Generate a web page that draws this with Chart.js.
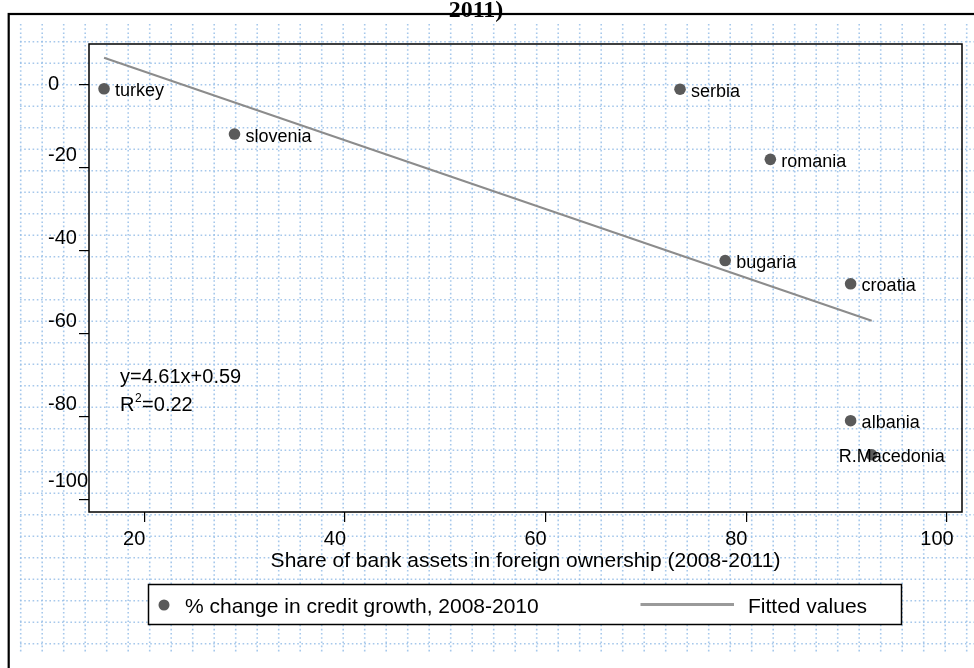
<!DOCTYPE html>
<html>
<head>
<meta charset="utf-8">
<script src="https://cdn.jsdelivr.net/npm/chart.js@4.4.0/dist/chart.umd.min.js"></script>
<style>
  html, body { margin: 0; padding: 0; background: #fff; }
  #wrap { width: 974px; height: 668px; }
</style>
</head>
<body>
<div id="wrap"><canvas id="chart" width="974" height="668"></canvas></div>
<script>
// data
const countries = ['turkey', 'slovenia', 'serbia', 'romania', 'bugaria', 'croatia', 'albania', 'R.Macedonia'];
const foreignShare = [16.0, 29.0, 73.4, 82.4, 77.9, 90.4, 90.4, 92.5];
const creditChange = [-1.1, -12.0, -1.2, -18.1, -42.5, -48.1, -81.1, -89.3];
const fitX = [16.0, 92.5];
const fitY = [6.4, -57.0];
const xTicks = [20, 40, 60, 80, 100];
const yTicks = [0, -20, -40, -60, -80, -100];

const scatterLabel = '% change in credit growth, 2008-2010';
const fitLabel = 'Fitted values';
const xTitle = 'Share of bank assets in foreign ownership (2008-2011)';
const titleTail = '2011)';
const eqLine = 'y=4.61x+0.59';
const r2Value = '=0.22';

const SANS = "'Liberation Sans', Arial, sans-serif";
const POINT_COLOR = '#5a5a5a';
const FIT_COLOR = '#8c8c8c';

Chart.defaults.color = '#000';

const pagePlugin = {
    id: 'page',
    beforeDraw(chart) {
        const ctx = chart.ctx;
        const w = chart.width;
        ctx.save();
        ctx.fillStyle = '#fff';
        ctx.fillRect(0, 0, w, chart.height);

        // dotted blue grid behind the whole figure
        ctx.strokeStyle = 'rgba(150, 190, 232, 0.85)';
        ctx.lineWidth = 1.6;
        ctx.setLineDash([1.6, 2.6]);
        for (let x = 20.7; x < w; x += 21.5) {
            ctx.beginPath();
            ctx.moveTo(x, 24);
            ctx.lineTo(x, 654);
            ctx.stroke();
        }
        for (let y = 41.7; y < 650; y += 21.5) {
            ctx.beginPath();
            ctx.moveTo(20, y);
            ctx.lineTo(w, y);
            ctx.stroke();
        }
        ctx.setLineDash([]);

        // outer frame
        ctx.strokeStyle = '#000';
        ctx.lineWidth = 2.2;
        ctx.strokeRect(8.7, 14, w + 20, chart.height + 20);

        // end of the title, cut at the top
        ctx.fillStyle = '#000';
        ctx.font = "bold 24px 'Liberation Serif', 'Times New Roman', serif";
        ctx.textAlign = 'center';
        ctx.textBaseline = 'alphabetic';
        ctx.fillText(titleTail, 476, 17);
        ctx.restore();
    },
    beforeDatasetsDraw(chart) {
        const { ctx, chartArea: a } = chart;
        ctx.save();
        ctx.strokeStyle = '#000';
        ctx.lineWidth = 1.5;
        ctx.strokeRect(a.left, a.top, a.right - a.left, a.bottom - a.top);
        ctx.restore();
    },
    afterDatasetsDraw(chart) {
        const ctx = chart.ctx;
        const meta = chart.getDatasetMeta(0);
        ctx.save();
        ctx.fillStyle = '#000';
        ctx.font = '18px ' + SANS;
        ctx.textBaseline = 'alphabetic';
        ctx.textAlign = 'left';
        meta.data.forEach((pt, i) => {
            const name = countries[i];
            // R.Macedonia is written across its marker
            const dx = name === 'R.Macedonia' ? -33 : 11;
            ctx.fillText(name, pt.x + dx, pt.y + 7.6);
        });

        // regression note
        ctx.font = '20px ' + SANS;
        ctx.fillText(eqLine, 120, 382.7);
        ctx.fillText('R', 120, 410.7);
        const rw = ctx.measureText('R').width;
        ctx.font = '12px ' + SANS;
        ctx.fillText('2', 120 + rw + 0.5, 401.5);
        const sw = ctx.measureText('2').width;
        ctx.font = '20px ' + SANS;
        ctx.fillText(r2Value, 120 + rw + sw + 1, 410.7);
        ctx.restore();
    },
    afterDraw(chart) {
        const ctx = chart.ctx;
        const ds = chart.data.datasets;
        ctx.save();
        // legend box
        ctx.fillStyle = '#fff';
        ctx.fillRect(148.5, 584.5, 753, 40);
        ctx.strokeStyle = '#000';
        ctx.lineWidth = 1.5;
        ctx.strokeRect(148.5, 584.5, 753, 40);

        ctx.fillStyle = ds[0].backgroundColor;
        ctx.beginPath();
        ctx.arc(164, 605, 5.5, 0, Math.PI * 2);
        ctx.fill();

        ctx.strokeStyle = '#9a9a9a';
        ctx.lineWidth = 3;
        ctx.beginPath();
        ctx.moveTo(640.5, 604.5);
        ctx.lineTo(734, 604.5);
        ctx.stroke();

        ctx.fillStyle = '#000';
        ctx.font = '21px ' + SANS;
        ctx.textBaseline = 'alphabetic';
        ctx.fillText(ds[0].label, 185, 612.5);
        ctx.fillText(ds[1].label, 748, 612.5);
        ctx.restore();
    }
};

const ctx = document.getElementById('chart');
const chart = new Chart(ctx, {
    type: 'scatter',
    data: {
        datasets: [
            {
                label: scatterLabel,
                data: foreignShare.map((x, i) => ({ x, y: creditChange[i] })),
                backgroundColor: POINT_COLOR,
                borderColor: POINT_COLOR,
                pointRadius: 5.8,
                pointBorderWidth: 0
            },
            {
                label: fitLabel,
                data: fitX.map((x, i) => ({ x, y: fitY[i] })),
                showLine: true,
                borderColor: FIT_COLOR,
                borderWidth: 2,
                pointRadius: 0,
                fill: false
            }
        ]
    },
    options: {
        responsive: false,
        animation: false,
        devicePixelRatio: 1,
        layout: { padding: { left: 48, right: 12, top: 44, bottom: 94.4 } },
        plugins: {
            legend: { display: false },
            tooltip: { enabled: false }
        },
        scales: {
            x: {
                type: 'linear',
                min: 14.5,
                max: 101.5,
                afterBuildTicks: (scale) => { scale.ticks = xTicks.map(v => ({ value: v })); },
                afterFit: (scale) => { scale.height = 61.6; },
                grid: { drawOnChartArea: false, drawTicks: true, tickLength: 10, color: '#000', lineWidth: 1.2 },
                border: { display: false },
                ticks: {
                    includeBounds: false,
                    maxRotation: 0,
                    autoSkip: false,
                    padding: 5,
                    labelOffset: -10,
                    font: { family: SANS, size: 20 },
                    callback: (v) => String(v)
                },
                title: {
                    display: true,
                    text: xTitle,
                    font: { family: SANS, size: 21 },
                    padding: { top: 0, bottom: 0 }
                }
            },
            y: {
                type: 'linear',
                min: -103.1,
                max: 9.7,
                afterBuildTicks: (scale) => { scale.ticks = yTicks.map(v => ({ value: v })); },
                afterFit: (scale) => { scale.width = 41; },
                grid: { drawOnChartArea: false, drawTicks: true, tickLength: 10, color: '#000', lineWidth: 1.2 },
                border: { display: false },
                ticks: {
                    includeBounds: false,
                    autoSkip: false,
                    crossAlign: 'far',
                    // labels sit a little above their ticks, except 0
                    font: (c) => {
                        const v = c.tick ? c.tick.value : 0;
                        const lh = v === 0 ? 1.2 : (v === -100 ? '35px' : '23px');
                        return { family: SANS, size: 20, lineHeight: lh };
                    },
                    callback: (v) => v === 0 ? '0' : [String(v), '']
                }
            }
        }
    },
    plugins: [pagePlugin]
});
</script>
</body>
</html>
